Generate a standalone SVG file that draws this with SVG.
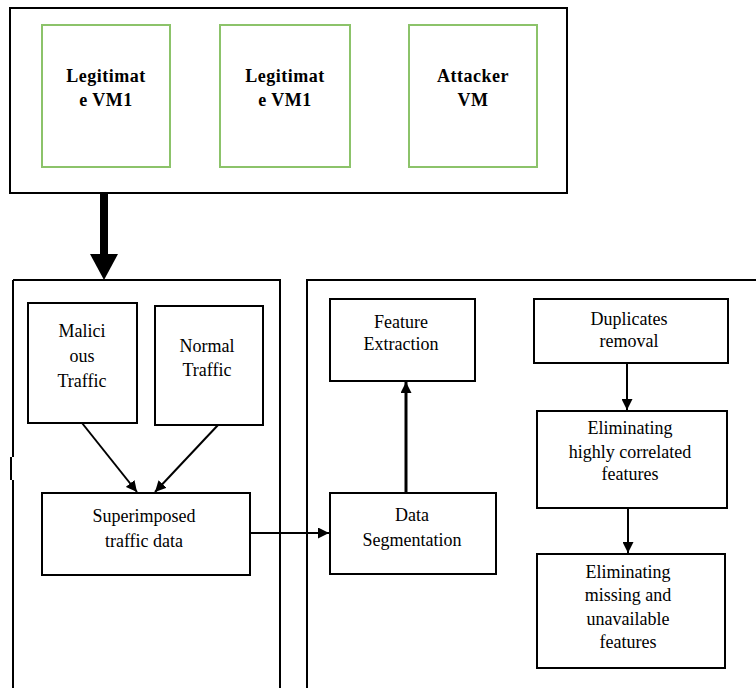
<svg xmlns="http://www.w3.org/2000/svg" width="756" height="688" viewBox="0 0 756 688">
<style>
.box{fill:#fff;stroke:#000;stroke-width:2}
.vm{fill:#fff;stroke:#8cc36a;stroke-width:2}
.cont{fill:none;stroke:#000;stroke-width:2}
.b{font-weight:bold;letter-spacing:0.5px}
.ln{stroke:#000;stroke-width:2;fill:none}
</style>
<defs>
<marker id="ah2" viewBox="0 0 10 10" refX="10" refY="5" markerWidth="11" markerHeight="11" markerUnits="userSpaceOnUse" orient="auto"><path d="M0,0 L10,5 L0,10 z" fill="#000"/></marker>
</defs>
<g font-family="Liberation Serif, DejaVu Serif, serif" font-size="18" text-anchor="middle" fill="#000">
<g id="cloud">
<rect x="10" y="8" width="557" height="185" class="cont"/>
</g>
<g id="vm1"><rect x="42" y="25" width="128" height="142" class="vm"/><text class="b" x="106" y="82">Legitimat</text><text class="b" x="106" y="106">e VM1</text></g>
<g id="vm2"><rect x="220" y="25" width="130" height="142" class="vm"/><text class="b" x="285" y="82">Legitimat</text><text class="b" x="285" y="106">e VM1</text></g>
<g id="vm3"><rect x="409" y="25" width="128" height="142" class="vm"/><text class="b" x="473" y="82">Attacker</text><text class="b" x="473" y="106">VM</text></g>
<g id="traffic-panel">
<path d="M13,280 H280 V688 M13,280 V457 M13,480 V688" class="cont"/>
<path d="M11,457 V480" class="cont"/>
</g>
<g id="processing-panel">
<path d="M307,688 V280 H756" class="cont"/>
</g>
<g id="malicious"><rect x="28" y="303" width="109" height="120" class="box"/><text x="82" y="337">Malici</text><text x="82" y="362">ous</text><text x="82" y="387">Traffic</text></g>
<g id="normal"><rect x="155" y="306" width="108" height="119" class="box"/><text x="207" y="352">Normal</text><text x="207" y="376">Traffic</text></g>
<g id="superimposed"><rect x="42" y="493" width="208" height="82" class="box"/><text x="144" y="522">Superimposed</text><text x="144" y="547">traffic data</text></g>
<g id="feature"><rect x="330" y="299" width="145" height="82" class="box"/><text x="401" y="328">Feature</text><text x="401" y="350">Extraction</text></g>
<g id="segmentation"><rect x="330" y="493" width="166" height="81" class="box"/><text x="412" y="521">Data</text><text x="412" y="546">Segmentation</text></g>
<g id="duplicates"><rect x="534" y="299" width="194" height="64" class="box"/><text x="629" y="325">Duplicates</text><text x="629" y="347">removal</text></g>
<g id="correlated"><rect x="537" y="411" width="190" height="97" class="box"/><text x="630" y="434">Eliminating</text><text x="630" y="458">highly correlated</text><text x="630" y="480">features</text></g>
<g id="missing"><rect x="537" y="554" width="188" height="114" class="box"/><text x="628" y="578">Eliminating</text><text x="628" y="601">missing and</text><text x="628" y="625">unavailable</text><text x="628" y="648">features</text></g>
</g>
<g id="connectors">
<line x1="104" y1="194" x2="104" y2="256" stroke="#000" stroke-width="8"/>
<path d="M90,254 L118,254 L104,280 z" fill="#000"/>
<line x1="82" y1="423" x2="137" y2="492" class="ln" marker-end="url(#ah2)"/>
<line x1="218" y1="425" x2="155" y2="492" class="ln" marker-end="url(#ah2)"/>
<line x1="250" y1="533" x2="329" y2="533" class="ln" marker-end="url(#ah2)"/>
<line x1="406" y1="493" x2="406" y2="382" stroke="#000" stroke-width="3" marker-end="url(#ah2)"/>
<line x1="627" y1="363" x2="627" y2="410" class="ln" stroke-width="1.5" marker-end="url(#ah2)"/>
<line x1="628" y1="508" x2="628" y2="553" class="ln" stroke-width="1.5" marker-end="url(#ah2)"/>
</g>
</svg>
